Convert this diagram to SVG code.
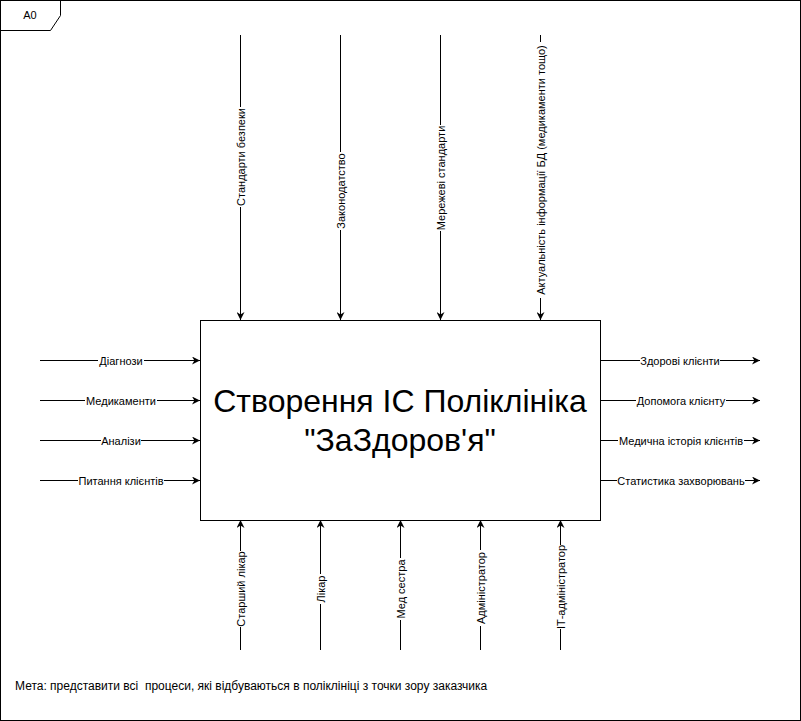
<svg xmlns="http://www.w3.org/2000/svg" width="801" height="721" viewBox="0 0 801 721">
<style>
.ln{stroke:#000;stroke-width:1;fill:none}
.lbl{font-family:"Liberation Sans",Arial,sans-serif;font-size:11px;fill:#000}
.bg{fill:#fff}
.ttl{font-family:"Liberation Sans",Arial,sans-serif;font-size:32px;fill:#000}
.goal{font-family:"Liberation Sans",Arial,sans-serif;font-size:12px;fill:#000;white-space:pre}
</style>
<defs>
<marker id="ah" viewBox="0 0 10 10" refX="10" refY="5" markerWidth="8" markerHeight="8" markerUnits="userSpaceOnUse" orient="auto">
<path d="M0,0 L10,5 L0,10 L3,5 Z" fill="#000"/>
</marker>
</defs>
<rect x="0" y="0" width="801" height="721" fill="#fff"/>
<g id="frame">
<rect x="0.5" y="0.5" width="800" height="720" class="ln"/>
<path d="M0.5,30.5 L50.5,30.5 L60.5,15.5 L60.5,0.5" class="ln"/>
<text x="30" y="19" class="lbl" text-anchor="middle">A0</text>
</g>
<g id="connectors">
<line x1="240.5" y1="35" x2="240.5" y2="320" class="ln" marker-end="url(#ah)"/>
<line x1="340.5" y1="35" x2="340.5" y2="320" class="ln" marker-end="url(#ah)"/>
<line x1="440.5" y1="35" x2="440.5" y2="320" class="ln" marker-end="url(#ah)"/>
<line x1="540.5" y1="35" x2="540.5" y2="320" class="ln" marker-end="url(#ah)"/>
<line x1="40" y1="360.5" x2="200" y2="360.5" class="ln" marker-end="url(#ah)"/>
<line x1="40" y1="400.5" x2="200" y2="400.5" class="ln" marker-end="url(#ah)"/>
<line x1="40" y1="440.5" x2="200" y2="440.5" class="ln" marker-end="url(#ah)"/>
<line x1="40" y1="480.5" x2="200" y2="480.5" class="ln" marker-end="url(#ah)"/>
<line x1="600" y1="360.5" x2="760" y2="360.5" class="ln" marker-end="url(#ah)"/>
<line x1="600" y1="400.5" x2="760" y2="400.5" class="ln" marker-end="url(#ah)"/>
<line x1="600" y1="440.5" x2="760" y2="440.5" class="ln" marker-end="url(#ah)"/>
<line x1="600" y1="480.5" x2="760" y2="480.5" class="ln" marker-end="url(#ah)"/>
<line x1="240.5" y1="650" x2="240.5" y2="520" class="ln" marker-end="url(#ah)"/>
<line x1="320.5" y1="650" x2="320.5" y2="520" class="ln" marker-end="url(#ah)"/>
<line x1="400.5" y1="650" x2="400.5" y2="520" class="ln" marker-end="url(#ah)"/>
<line x1="480.5" y1="650" x2="480.5" y2="520" class="ln" marker-end="url(#ah)"/>
<line x1="560.5" y1="650" x2="560.5" y2="520" class="ln" marker-end="url(#ah)"/>
</g>
<g id="labels">
<g transform="translate(240.5,157) rotate(-90)"><rect x="-50" y="-7" width="100" height="13" class="bg"/><text x="0" y="4" class="lbl" text-anchor="middle">Стандарти безпеки</text></g>
<g transform="translate(340.5,191) rotate(-90)"><rect x="-39" y="-7" width="78" height="13" class="bg"/><text x="0" y="4" class="lbl" text-anchor="middle">Законодатство</text></g>
<g transform="translate(440.5,178) rotate(-90)"><rect x="-53" y="-7" width="106" height="13" class="bg"/><text x="0" y="4" class="lbl" text-anchor="middle">Мережеві стандарти</text></g>
<g transform="translate(540.5,170) rotate(-90)"><rect x="-128" y="-7" width="256" height="13" class="bg"/><text x="0" y="4" class="lbl" text-anchor="middle">Актуальність інформації БД (медикаменти тощо)</text></g>
<g transform="translate(121,360.5)"><rect x="-23" y="-7" width="46" height="13" class="bg"/><text x="0" y="4" class="lbl" text-anchor="middle">Діагнози</text></g>
<g transform="translate(121,400.5)"><rect x="-36" y="-7" width="72" height="13" class="bg"/><text x="0" y="4" class="lbl" text-anchor="middle">Медикаменти</text></g>
<g transform="translate(121,440.5)"><rect x="-20" y="-7" width="40" height="13" class="bg"/><text x="0" y="4" class="lbl" text-anchor="middle">Аналізи</text></g>
<g transform="translate(121,480.5)"><rect x="-43" y="-7" width="86" height="13" class="bg"/><text x="0" y="4" class="lbl" text-anchor="middle">Питання клієнтів</text></g>
<g transform="translate(680,360.5)"><rect x="-40" y="-7" width="80" height="13" class="bg"/><text x="0" y="4" class="lbl" text-anchor="middle">Здорові клієнти</text></g>
<g transform="translate(681,400.5)"><rect x="-45" y="-7" width="90" height="13" class="bg"/><text x="0" y="4" class="lbl" text-anchor="middle">Допомога клієнту</text></g>
<g transform="translate(681,440.5)"><rect x="-63" y="-7" width="126" height="13" class="bg"/><text x="0" y="4" class="lbl" text-anchor="middle">Медична історія клієнтів</text></g>
<g transform="translate(681,480.5)"><rect x="-64" y="-7" width="128" height="13" class="bg"/><text x="0" y="4" class="lbl" text-anchor="middle">Статистика захворювань</text></g>
<g transform="translate(240.5,589) rotate(-90)"><rect x="-38" y="-7" width="76" height="13" class="bg"/><text x="0" y="4" class="lbl" text-anchor="middle">Старший лікар</text></g>
<g transform="translate(320.5,589) rotate(-90)"><rect x="-15" y="-7" width="30" height="13" class="bg"/><text x="0" y="4" class="lbl" text-anchor="middle">Лікар</text></g>
<g transform="translate(400.5,589) rotate(-90)"><rect x="-31" y="-7" width="62" height="13" class="bg"/><text x="0" y="4" class="lbl" text-anchor="middle">Мед сестра</text></g>
<g transform="translate(480.5,588) rotate(-90)"><rect x="-38" y="-7" width="76" height="13" class="bg"/><text x="0" y="4" class="lbl" text-anchor="middle">Адміністратор</text></g>
<g transform="translate(560.5,587) rotate(-90)"><rect x="-42" y="-7" width="84" height="13" class="bg"/><text x="0" y="4" class="lbl" text-anchor="middle">ІТ-адміністратор</text></g>
</g>
<g id="main">
<rect x="200.5" y="320.5" width="400" height="200" fill="#fff" stroke="#000"/>
<text x="400" y="412" class="ttl" text-anchor="middle">Створення ІС Поліклініка</text>
<text x="400" y="451" class="ttl" text-anchor="middle">"ЗаЗдоров'я"</text>
</g>
<g id="goal">
<text x="15" y="690" class="goal" xml:space="preserve">Мета: представити всі  процеси, які відбуваються в поліклініці з точки зору заказчика</text>
</g>
</svg>
